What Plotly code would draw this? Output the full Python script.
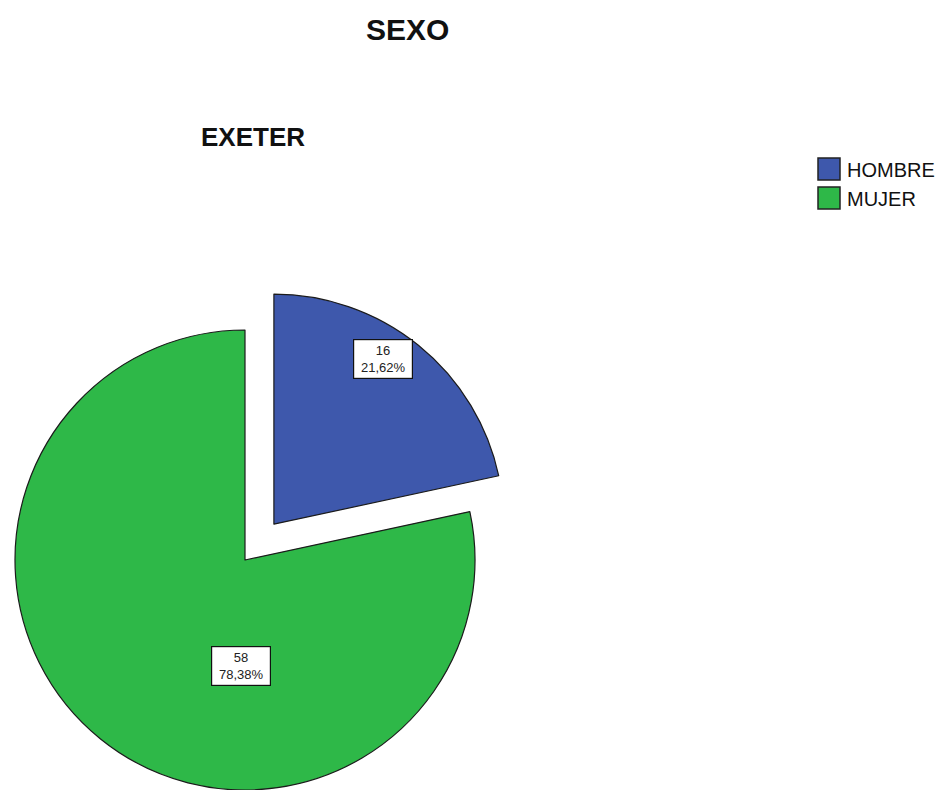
import math
import plotly.graph_objects as go

# Frequencies of SEXO (EXETER sample)
categories = ["HOMBRE", "MUJER"]
counts = [16, 58]
colors = ["#3E58AC", "#2EB848"]

W, H = 939, 790
total = sum(counts)
pcts = [c / total * 100 for c in counts]

# Pie geometry in pixels
R = 230.0           # radius
CX, CY = 245.0, 560.0
PULL = 0.2          # explode fraction for the first slice

# mid angle of the exploded slice (clockwise from 12 o'clock)
mid = 0.5 * counts[0] / total * 2 * math.pi
dx = PULL * R * math.sin(mid)
dy = -PULL * R * math.cos(mid)


def domain(cx, cy, r):
    return dict(x=[(cx - r) / W, (cx + r) / W],
                y=[max(0.0, (H - (cy + r)) / H), (H - (cy - r)) / H])


outline = "#1b1b1b"
fig = go.Figure()

# main pie: everything except the exploded slice
fig.add_trace(go.Pie(
    labels=categories, values=counts, sort=False, direction="clockwise",
    rotation=0, textinfo="none", hoverinfo="skip", showlegend=False,
    marker=dict(colors=["rgba(0,0,0,0)", colors[1]],
                line=dict(color=[outline, outline], width=[0, 1.2])),
    domain=dict(x=[(CX - R) / W, (CX + R) / W], y=[0, 2 * (H - CY) / H]),
))

# exploded slice, shifted along its mid angle
fig.add_trace(go.Pie(
    labels=categories, values=counts, sort=False, direction="clockwise",
    rotation=0, textinfo="none", hoverinfo="skip", showlegend=False,
    marker=dict(colors=[colors[0], "rgba(0,0,0,0)"],
                line=dict(color=[outline, outline], width=[1.2, 0])),
    domain=domain(CX + dx, CY + dy, R),
))

annotations = []
shapes = []

# value labels (count + percent, comma decimal)
label_pos = [(383, 359), (241, 666)]
for cnt, pct, (lx, ly) in zip(counts, pcts, label_pos):
    txt = f"{cnt}<br>{pct:.2f}%".replace(".", ",")
    annotations.append(dict(
        x=lx / W, y=1 - ly / H, xref="paper", yref="paper",
        xanchor="center", yanchor="middle",
        text=txt, showarrow=False, align="center",
        font=dict(family="Liberation Sans, Arial", size=13, color="#222"),
        bgcolor="white", bordercolor="#111", borderwidth=1.2,
        width=56, height=36, borderpad=1,
    ))

# titles
annotations.append(dict(
    x=407 / W, y=1 - 30 / H, xref="paper", yref="paper", text="<b>SEXO</b>",
    xanchor="center", yanchor="middle", showarrow=False,
    font=dict(family="Liberation Sans, Arial", size=30, color="#111"),
))
annotations.append(dict(
    x=253 / W, y=1 - 137 / H, xref="paper", yref="paper", text="<b>EXETER</b>",
    xanchor="center", yanchor="middle", showarrow=False,
    font=dict(family="Liberation Sans, Arial", size=26, color="#111"),
))

# legend: swatches and names
leg_x0, leg_y0, sw, step = 818, 158, 22, 29
for i, (name, col) in enumerate(zip(categories, colors)):
    y0 = leg_y0 + i * step
    shapes.append(dict(type="rect", xref="paper", yref="paper",
                       x0=leg_x0 / W, x1=(leg_x0 + sw) / W,
                       y0=1 - (y0 + sw) / H, y1=1 - y0 / H,
                       fillcolor=col, line=dict(color="#222", width=1.5)))
    annotations.append(dict(
        x=(leg_x0 + sw + 5) / W, y=1 - (y0 + sw / 2 + 1) / H,
        xref="paper", yref="paper", xanchor="left", yanchor="middle",
        text=name, showarrow=False,
        font=dict(family="Liberation Sans, Arial", size=20, color="#111"),
    ))

fig.update_layout(
    width=W, height=H,
    margin=dict(l=0, r=0, t=0, b=0),
    paper_bgcolor="white", plot_bgcolor="white",
    annotations=annotations, shapes=shapes,
)

fig.write_html("out.html")
